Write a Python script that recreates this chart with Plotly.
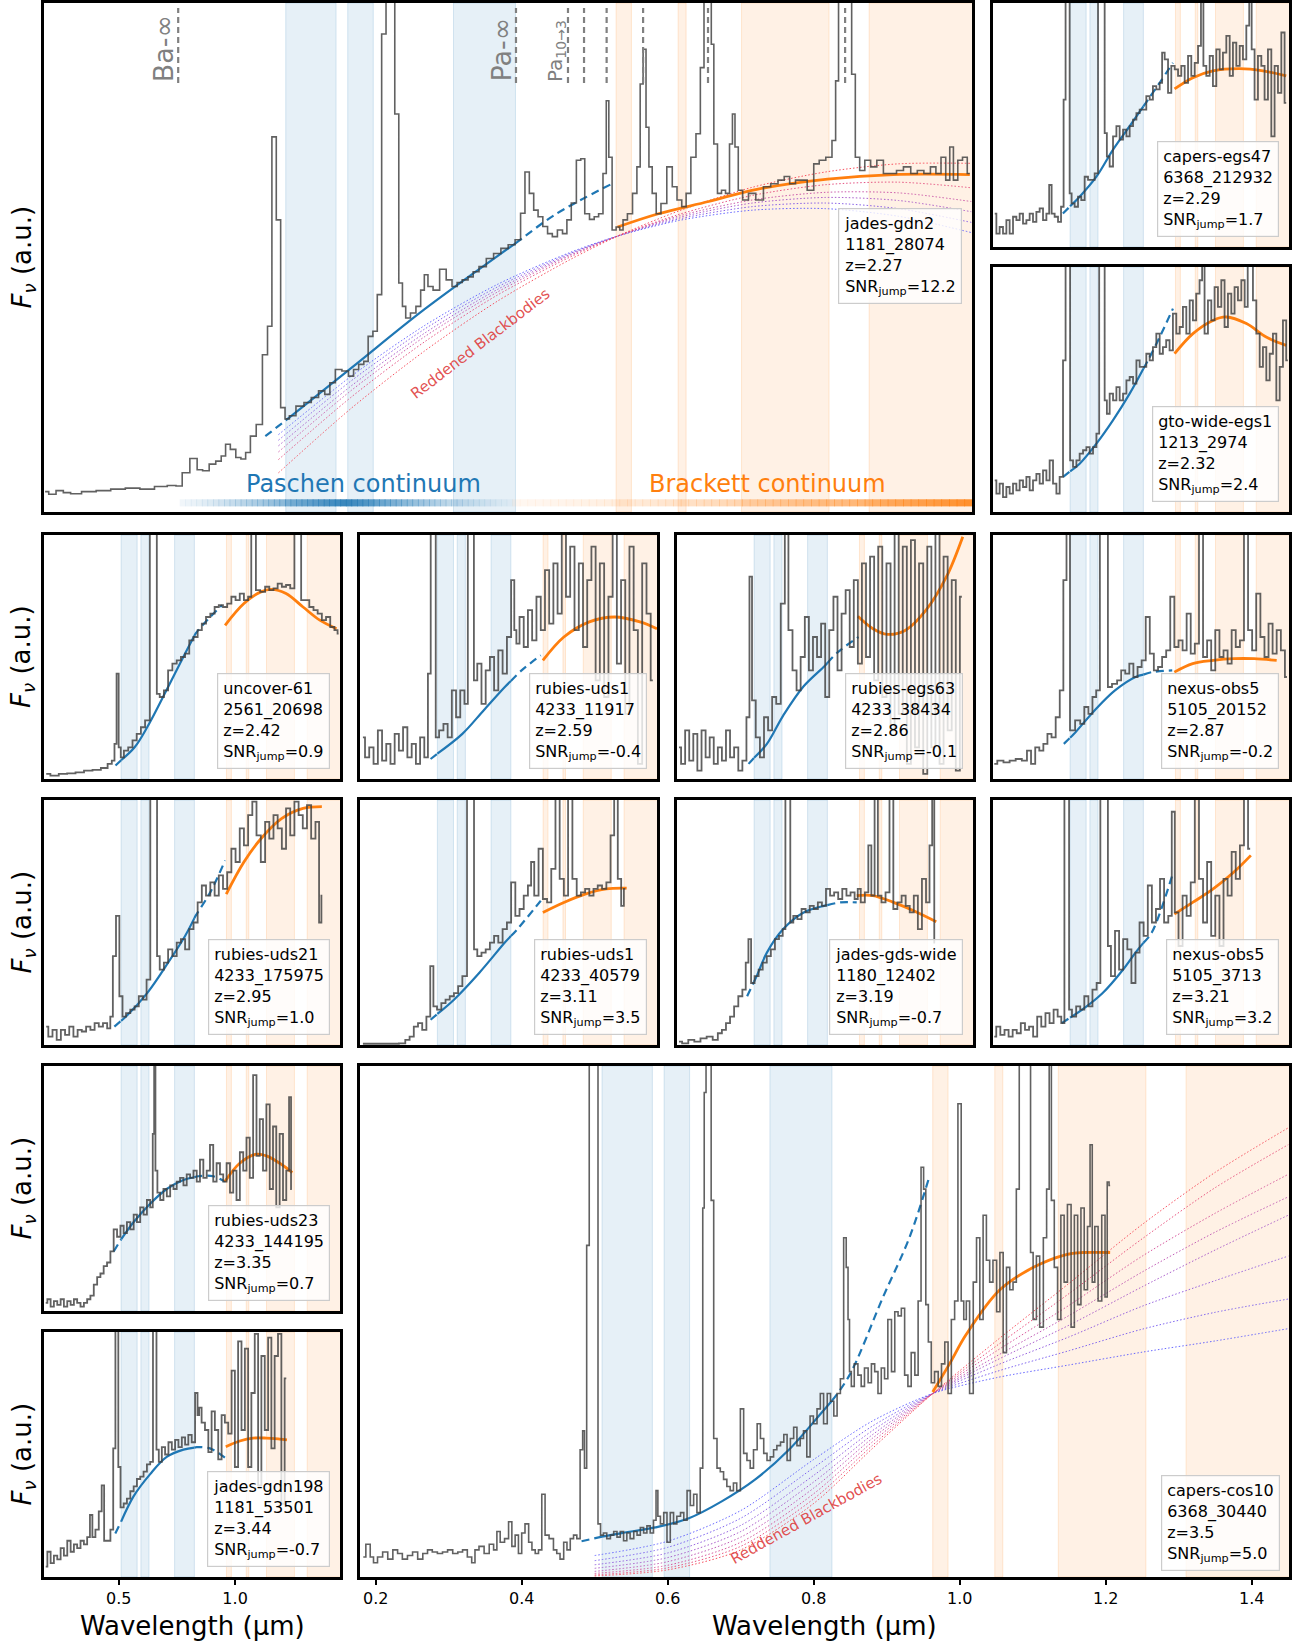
import numpy as np
import plotly.graph_objects as go

FIG_W, FIG_H = 1303, 1642
FONT = "DejaVu Sans"
X_RANGE = [0.1785, 1.451]
Y_RANGE = [0.0, 1.0]

# continuum windows (rest-frame micron)
PASCHEN_WIN = [(0.510, 0.579), (0.595, 0.630), (0.740, 0.825)]
BRACKETT_WIN = [(0.963, 0.984), (1.048, 1.059), (1.135, 1.255), (1.310, 1.470)]
SOLID_RANGE = (0.510, 0.825)
BA_LIMIT = 0.3625
PA_LIMIT = 0.8257
PA_LINES = [0.897, 0.919, 0.950, 1.000, 1.089, 1.277]

# ---------------- jades-gdn2 (top, large) ----------------
gdn2_wl = [0.180,0.190,0.200,0.210,0.220,0.240,0.260,0.280,0.300,0.320,
           0.340,0.355,0.364,0.372,0.385,0.392,0.400,0.410,0.418,0.425,
           0.430,0.438,0.445,0.452,0.458,0.465,0.474,0.482,0.488,0.494,
           0.500,0.506,0.512,0.518,0.530,0.540,0.550,0.560,0.567,0.574,
           0.582,0.592,0.600,0.606,0.614,0.620,0.626,0.633,0.638,0.645,
           0.650,0.657,0.662,0.668,0.672,0.677,0.685,0.692,0.698,0.702,
           0.708,0.716,0.726,0.734,0.742,0.748,0.756,0.764,0.770,0.780,
           0.790,0.800,0.810,0.820,0.829,0.835,0.841,0.847,0.853,0.859,
           0.866,0.872,0.879,0.886,0.893,0.898,0.905,0.912,0.917,0.923,
           0.930,0.936,0.942,0.948,0.951,0.955,0.960,0.966,0.970,0.975,
           0.982,0.989,0.994,0.998,1.002,1.006,1.010,1.015,1.021,1.028,
           1.037,1.043,1.050,1.056,1.062,1.069,1.076,1.081,1.086,1.092,
           1.095,1.099,1.105,1.110,1.116,1.121,1.124,1.128,1.133,1.140,
           1.149,1.160,1.170,1.180,1.190,1.197,1.205,1.213,1.220,1.230,
           1.238,1.245,1.256,1.262,1.266,1.270,1.284,1.288,1.294,1.300,
           1.308,1.316,1.325,1.334,1.343,1.352,1.362,1.372,1.380,1.390,
           1.398,1.405,1.412,1.418,1.423,1.428,1.435,1.441,1.448]
gdn2_fx = [0.040,0.035,0.042,0.038,0.036,0.040,0.042,0.045,0.047,0.045,
           0.050,0.052,0.051,0.077,0.105,0.083,0.081,0.094,0.100,0.110,
           0.133,0.123,0.107,0.104,0.117,0.149,0.172,0.309,0.365,0.737,
           0.574,0.205,0.183,0.189,0.208,0.215,0.225,0.238,0.231,0.254,
           0.280,0.277,0.267,0.280,0.290,0.296,0.345,0.355,0.427,0.939,
           1.2,1.2,0.782,0.450,0.404,0.381,0.391,0.404,0.436,0.466,
           0.443,0.436,0.477,0.456,0.443,0.451,0.456,0.462,0.472,0.482,
           0.498,0.508,0.518,0.525,0.535,0.587,0.668,0.626,0.593,0.580,
           0.561,0.547,0.541,0.554,0.547,0.574,0.607,0.691,0.694,0.586,
           0.575,0.580,0.586,0.665,0.808,0.697,0.554,0.560,0.554,0.574,
           0.586,0.626,0.678,0.841,0.909,0.756,0.678,0.626,0.586,0.606,
           0.678,0.639,0.613,0.600,0.626,0.697,0.743,0.873,1.2,1.2,
           0.919,0.723,0.626,0.632,0.626,0.723,0.782,0.717,0.632,0.613,
           0.626,0.613,0.639,0.645,0.652,0.659,0.645,0.652,0.652,0.632,
           0.684,0.691,0.697,0.730,0.847,1.2,1.2,0.860,0.697,0.671,
           0.691,0.678,0.691,0.665,0.665,0.671,0.678,0.665,0.671,0.665,
           0.678,0.665,0.697,0.652,0.717,0.652,0.691,0.697,0.665]
gdn2_blue_wl = [0.482,0.510,0.600,0.700,0.829,0.880,0.959]
gdn2_blue_fx = [0.149,0.180,0.283,0.398,0.532,0.585,0.646]
gdn2_orange_wl = [0.965,1.021,1.090,1.156,1.253,1.343,1.448]
gdn2_orange_fx = [0.560,0.586,0.610,0.634,0.654,0.663,0.663]

# ---------------- capers-egs47 ----------------
egs47_wl = [0.186,0.200,0.214,0.229,0.243,0.257,0.272,0.286,0.300,0.315,
            0.329,0.343,0.358,0.372,0.386,0.401,0.415,0.425,0.436,0.451,
            0.465,0.477,0.487,0.494,0.505,0.511,0.522,0.537,0.551,0.565,
            0.580,0.594,0.608,0.623,0.637,0.654,0.663,0.673,0.687,0.702,
            0.716,0.730,0.745,0.759,0.773,0.788,0.802,0.816,0.830,0.845,
            0.859,0.873,0.888,0.902,0.909,0.924,0.938,0.952,0.967,0.981,
            0.995,1.010,1.024,1.038,1.053,1.067,1.078,1.088,1.103,1.117,
            1.131,1.146,1.160,1.174,1.189,1.203,1.217,1.232,1.246,1.260,
            1.275,1.285,1.296,1.310,1.325,1.339,1.353,1.368,1.382,1.396,
            1.411,1.425,1.439]
egs47_fx = [0.137,0.055,0.082,0.055,0.110,0.055,0.124,0.110,0.137,0.096,
            0.110,0.137,0.103,0.144,0.158,0.110,0.137,0.254,0.137,0.124,
            0.103,0.165,0.604,1.2,1.2,0.220,0.179,0.165,0.206,0.192,
            0.288,0.275,0.275,0.302,1.2,1.2,0.467,0.371,0.330,0.453,
            0.495,0.440,0.481,0.453,0.495,0.522,0.549,0.563,0.563,0.618,
            0.604,0.659,0.646,0.673,0.797,0.769,0.632,0.742,0.728,0.701,
            0.742,0.673,0.783,0.701,0.755,0.824,1.2,0.742,0.701,0.783,
            0.659,0.810,0.728,0.797,0.865,0.701,0.838,0.742,0.824,0.769,
            0.907,1.2,0.810,0.604,0.783,0.742,0.604,0.810,0.453,0.742,
            0.632,0.879,0.591]
egs47_blue_wl = [0.479,0.551,0.623,0.694,0.766,0.845,0.895,0.952]
egs47_blue_fx = [0.137,0.206,0.288,0.398,0.495,0.604,0.673,0.755]
egs47_orange_wl = [0.959,1.038,1.124,1.239,1.339,1.439]
egs47_orange_fx = [0.648,0.694,0.722,0.731,0.722,0.701]

# ---------------- gto-wide-egs1 ----------------
gto1_wl = [0.186,0.200,0.214,0.229,0.243,0.257,0.272,0.286,0.300,0.315,
           0.329,0.343,0.358,0.372,0.386,0.401,0.415,0.429,0.444,0.458,
           0.472,0.487,0.494,0.505,0.515,0.530,0.544,0.558,0.573,0.587,
           0.601,0.616,0.630,0.640,0.654,0.663,0.673,0.687,0.702,0.716,
           0.730,0.745,0.759,0.773,0.788,0.802,0.816,0.830,0.845,0.859,
           0.873,0.888,0.902,0.916,0.930,0.945,0.959,0.974,0.988,1.002,
           1.017,1.031,1.045,1.059,1.074,1.081,1.095,1.110,1.124,1.138,
           1.153,1.167,1.181,1.196,1.210,1.224,1.239,1.253,1.268,1.279,
           1.289,1.303,1.318,1.332,1.346,1.361,1.375,1.389,1.404,1.418,
           1.432,1.446]
gto1_fx = [0.129,0.075,0.116,0.061,0.102,0.075,0.116,0.088,0.129,0.102,
           0.143,0.088,0.129,0.156,0.116,0.170,0.129,0.211,0.116,0.075,
           0.143,0.619,1.2,1.2,0.211,0.184,0.211,0.238,0.252,0.265,
           0.238,0.265,0.320,1.2,1.2,0.456,0.401,0.483,0.456,0.510,
           0.456,0.483,0.537,0.551,0.524,0.619,0.592,0.592,0.646,0.619,
           0.673,0.728,0.646,0.673,0.701,0.660,0.810,0.728,0.755,0.837,
           0.728,0.864,0.782,0.891,0.946,1.2,0.728,0.864,0.782,0.918,
           0.837,0.946,0.755,0.891,0.810,0.918,0.864,0.946,0.837,1.2,
           1.2,0.864,0.728,0.592,0.673,0.537,0.646,0.728,0.456,0.592,
           0.782,0.619]
gto1_blue_wl = [0.480,0.551,0.623,0.694,0.766,0.845,0.895,0.952]
gto1_blue_fx = [0.143,0.197,0.279,0.374,0.483,0.619,0.714,0.830]
gto1_orange_wl = [0.959,1.038,1.124,1.181,1.268,1.353,1.439]
gto1_orange_fx = [0.646,0.728,0.782,0.796,0.769,0.714,0.680]

# ---------------- uncover-61 ----------------
unc61_wl = [0.188,0.224,0.260,0.296,0.332,0.369,0.405,0.441,0.463,0.477,
            0.486,0.495,0.504,0.513,0.531,0.550,0.568,0.586,0.604,0.622,
            0.645,0.660,0.667,0.685,0.703,0.721,0.740,0.758,0.776,0.794,
            0.812,0.830,0.848,0.866,0.884,0.903,0.921,0.939,0.957,0.975,
            0.993,1.011,1.029,1.047,1.065,1.074,1.083,1.096,1.120,1.138,
            1.156,1.174,1.192,1.210,1.228,1.246,1.264,1.277,1.291,1.310,
            1.328,1.346,1.364,1.382,1.400,1.418,1.436,1.445]
unc61_fx = [0.021,0.014,0.021,0.023,0.027,0.034,0.037,0.045,0.062,0.075,
            0.144,0.432,0.130,0.089,0.116,0.130,0.158,0.185,0.212,0.240,
            1.2,1.2,0.349,0.336,0.363,0.445,0.473,0.486,0.500,0.514,
            0.568,0.582,0.610,0.637,0.664,0.678,0.705,0.712,0.705,0.719,
            0.747,0.733,0.760,0.733,0.747,1.2,1.2,0.774,0.767,0.788,
            0.774,0.781,0.801,0.788,0.795,0.781,1.2,1.2,0.733,0.733,
            0.705,0.692,0.678,0.651,0.664,0.623,0.610,0.596]
unc61_blue_wl = [0.486,0.568,0.622,0.712,0.785,0.830,0.893,0.944]
unc61_blue_fx = [0.055,0.130,0.212,0.377,0.514,0.596,0.664,0.712]
unc61_orange_wl = [0.957,1.038,1.111,1.156,1.219,1.292,1.364,1.436]
unc61_orange_fx = [0.630,0.719,0.767,0.777,0.760,0.705,0.651,0.616]

# ---------------- rubies-uds1 (4233_11917) ----------------
uds1a_wl = [0.191,0.209,0.227,0.246,0.264,0.282,0.300,0.318,0.336,0.354,
            0.372,0.391,0.409,0.427,0.445,0.463,0.476,0.487,0.498,0.508,
            0.527,0.545,0.563,0.581,0.599,0.617,0.635,0.646,0.661,0.672,
            0.690,0.708,0.726,0.744,0.762,0.780,0.799,0.817,0.835,0.844,
            0.853,0.871,0.889,0.907,0.925,0.944,0.962,0.980,0.998,1.016,
            1.034,1.052,1.070,1.088,1.107,1.125,1.143,1.161,1.179,1.197,
            1.215,1.234,1.252,1.270,1.288,1.306,1.324,1.342,1.360,1.378,
            1.397,1.415,1.433]
uds1a_fx = [0.171,0.089,0.130,0.062,0.199,0.075,0.144,0.062,0.185,0.116,
            0.212,0.089,0.144,0.062,0.171,0.089,0.432,1.2,1.2,0.171,
            0.199,0.226,0.171,0.363,0.253,0.363,0.308,1.2,1.2,0.404,
            0.473,0.308,0.445,0.500,0.363,0.527,0.432,0.582,0.815,0.610,
            0.555,0.664,0.541,0.692,0.568,0.747,0.610,0.856,0.637,0.884,
            0.678,1.2,0.747,0.952,0.610,0.884,0.541,0.815,0.952,0.404,
            0.884,0.336,0.747,1.2,0.473,0.815,0.267,0.952,0.610,0.062,
            0.884,0.678,0.404]
uds1a_blue_wl = [0.481,0.617,0.708,0.799,0.871,0.953]
uds1a_blue_fx = [0.082,0.185,0.281,0.377,0.445,0.507]
uds1a_orange_wl = [0.962,1.052,1.161,1.270,1.378,1.451]
uds1a_orange_fx = [0.486,0.582,0.644,0.664,0.644,0.616]

# ---------------- rubies-egs63 ----------------
egs63_wl = [0.187,0.205,0.222,0.240,0.257,0.275,0.293,0.310,0.328,0.345,
            0.363,0.380,0.398,0.415,0.433,0.451,0.468,0.486,0.494,0.508,
            0.526,0.544,0.561,0.579,0.596,0.614,0.635,0.649,0.666,0.684,
            0.701,0.719,0.737,0.754,0.772,0.789,0.807,0.824,0.842,0.860,
            0.877,0.895,0.912,0.930,0.947,0.965,0.982,1.000,1.017,1.035,
            1.052,1.070,1.088,1.105,1.123,1.140,1.158,1.175,1.193,1.210,
            1.228,1.246,1.263,1.281,1.298,1.316,1.333,1.351,1.368,1.386,
            1.403]
egs63_fx = [0.130,0.062,0.199,0.075,0.185,0.034,0.199,0.089,0.171,0.062,
            0.130,0.075,0.199,0.089,0.130,0.034,0.075,0.253,0.829,0.322,
            0.171,0.089,0.253,0.199,0.336,0.308,0.719,1.2,0.610,0.445,
            0.363,0.500,0.664,0.445,0.582,0.500,0.637,0.336,0.610,0.747,
            0.445,0.678,0.774,0.541,0.815,0.473,0.884,0.500,0.911,0.404,
            0.952,0.336,0.884,0.199,1.2,0.267,0.952,0.062,0.979,0.130,
            0.884,0.021,0.952,0.130,1.2,0.062,0.911,0.199,0.815,0.034,
            0.747]
egs63_blue_wl = [0.486,0.565,0.635,0.723,0.810,0.870,0.959]
egs63_blue_fx = [0.062,0.144,0.260,0.380,0.460,0.520,0.582]
egs63_orange_wl = [0.956,1.021,1.082,1.161,1.249,1.337,1.407]
egs63_orange_fx = [0.667,0.616,0.593,0.610,0.692,0.829,0.993]

# ---------------- nexus-obs5 (5105_20152) ----------------
nx20152_wl = [0.184,0.210,0.237,0.263,0.289,0.316,0.333,0.351,0.369,0.386,
              0.404,0.421,0.439,0.457,0.474,0.488,0.501,0.518,0.545,0.562,
              0.580,0.597,0.615,0.629,0.647,0.668,0.677,0.703,0.721,0.738,
              0.756,0.773,0.791,0.809,0.826,0.844,0.861,0.879,0.897,0.914,
              0.932,0.949,0.967,0.985,1.002,1.020,1.037,1.055,1.073,1.090,
              1.108,1.125,1.143,1.161,1.178,1.196,1.213,1.231,1.249,1.266,
              1.284,1.301,1.319,1.337,1.354,1.372,1.389,1.407,1.425,1.442]
nx20152_fx = [0.062,0.075,0.068,0.075,0.082,0.075,0.116,0.062,0.130,0.116,
              0.144,0.185,0.171,0.253,0.363,0.815,1.2,0.199,0.240,0.226,
              0.295,0.267,0.336,0.363,1.2,1.2,0.377,0.390,0.404,0.445,
              0.432,0.473,0.418,0.459,0.486,0.664,0.514,0.445,0.459,0.500,
              0.527,0.747,0.541,0.568,0.527,0.678,0.514,0.555,1.2,0.500,
              0.568,0.445,0.610,0.500,0.527,0.473,0.610,0.541,0.568,1.2,
              0.610,0.527,0.760,0.582,0.500,0.637,0.514,0.610,0.527,0.418]
nx20152_blue_wl = [0.483,0.527,0.615,0.703,0.791,0.861,0.949]
nx20152_blue_fx = [0.144,0.185,0.281,0.363,0.418,0.438,0.445]
nx20152_orange_wl = [0.958,1.037,1.125,1.213,1.301,1.398]
nx20152_orange_fx = [0.438,0.473,0.486,0.493,0.493,0.486]

# ---------------- rubies-uds21 ----------------
uds21_wl = [0.188,0.206,0.224,0.242,0.260,0.278,0.296,0.314,0.332,0.350,
            0.369,0.387,0.405,0.423,0.441,0.459,0.468,0.481,0.495,0.510,
            0.522,0.540,0.559,0.577,0.595,0.613,0.626,0.645,0.662,0.667,
            0.685,0.703,0.721,0.740,0.758,0.776,0.794,0.812,0.830,0.848,
            0.866,0.884,0.903,0.921,0.939,0.957,0.975,0.993,1.011,1.029,
            1.047,1.065,1.083,1.101,1.120,1.138,1.156,1.174,1.192,1.210,
            1.228,1.246,1.264,1.282,1.300,1.318,1.336,1.355,1.367,1.375]
uds21_fx = [0.075,0.034,0.062,0.021,0.062,0.041,0.075,0.034,0.062,0.055,
            0.075,0.062,0.089,0.075,0.089,0.068,0.116,0.363,0.527,0.199,
            0.116,0.130,0.144,0.158,0.199,0.185,0.267,1.2,1.2,0.363,
            0.308,0.336,0.390,0.363,0.418,0.432,0.390,0.473,0.500,0.582,
            0.651,0.610,0.664,0.610,0.692,0.637,0.705,0.801,0.747,0.884,
            0.815,0.938,0.993,0.856,0.747,0.911,0.842,0.938,0.884,0.801,
            0.966,0.856,0.993,0.938,0.884,0.979,0.842,0.911,0.500,0.610]
uds21_blue_wl = [0.481,0.531,0.622,0.712,0.785,0.830,0.893,0.957]
uds21_blue_fx = [0.075,0.116,0.212,0.336,0.445,0.527,0.623,0.753]
uds21_orange_wl = [0.962,1.038,1.111,1.201,1.292,1.373]
uds21_orange_fx = [0.616,0.747,0.842,0.925,0.966,0.973]

# ---------------- rubies-uds1 (4233_40579) ----------------
uds1b_wl = [0.191,0.255,0.327,0.363,0.382,0.400,0.418,0.436,0.454,0.472,
            0.487,0.499,0.518,0.536,0.554,0.572,0.590,0.608,0.626,0.648,
            0.662,0.672,0.690,0.708,0.726,0.744,0.762,0.780,0.799,0.817,
            0.835,0.853,0.871,0.889,0.907,0.916,0.934,0.953,0.971,0.989,
            1.007,1.025,1.043,1.061,1.079,1.098,1.116,1.134,1.152,1.170,
            1.188,1.206,1.225,1.243,1.261,1.274,1.292,1.303,1.315]
uds1b_fx = [0.005,0.005,0.005,0.007,0.021,0.034,0.075,0.089,0.062,0.116,
            0.322,0.158,0.144,0.171,0.185,0.199,0.212,0.240,0.281,1.2,
            1.2,0.390,0.363,0.377,0.390,0.418,0.445,0.418,0.473,0.500,
            0.664,0.527,0.555,0.610,0.651,0.747,0.610,0.801,0.596,0.582,
            0.719,1.2,0.678,0.610,1.2,0.678,0.610,0.623,0.637,0.610,
            0.637,0.651,0.637,0.664,0.856,1.2,0.678,0.568,0.637]
uds1b_blue_wl = [0.481,0.581,0.690,0.799,0.853,0.953]
uds1b_blue_fx = [0.103,0.185,0.295,0.418,0.473,0.589]
uds1b_orange_wl = [0.962,1.052,1.143,1.234,1.321]
uds1b_orange_fx = [0.541,0.582,0.616,0.637,0.640]

# ---------------- jades-gds-wide ----------------
gdsw_wl = [0.187,0.214,0.240,0.266,0.293,0.319,0.345,0.363,0.380,0.398,
           0.415,0.433,0.451,0.468,0.480,0.491,0.503,0.521,0.538,0.556,
           0.573,0.591,0.608,0.626,0.640,0.649,0.661,0.670,0.687,0.705,
           0.723,0.740,0.758,0.775,0.793,0.810,0.828,0.845,0.863,0.880,
           0.898,0.916,0.933,0.951,0.960,0.977,0.995,1.007,1.021,1.035,
           1.049,1.066,1.084,1.100,1.117,1.135,1.153,1.170,1.188,1.205,
           1.223,1.240,1.258,1.270,1.281,1.288]
gdsw_fx = [0.014,0.007,0.021,0.014,0.027,0.034,0.021,0.048,0.062,0.089,
           0.116,0.158,0.199,0.226,0.336,0.432,0.253,0.281,0.308,0.336,
           0.363,0.390,0.432,0.445,0.473,1.2,1.2,0.500,0.527,0.514,
           0.555,0.541,0.568,0.555,0.582,0.568,0.637,0.610,0.623,0.596,
           0.637,0.610,0.623,0.596,0.637,0.582,0.623,0.815,0.610,1.2,
           0.610,0.582,0.623,1.2,0.555,0.582,0.610,0.568,0.541,0.610,
           0.473,0.678,0.582,0.815,1.2,0.418]
gdsw_blue_wl = [0.480,0.521,0.565,0.635,0.723,0.810,0.880,0.951]
gdsw_blue_fx = [0.199,0.281,0.377,0.473,0.541,0.568,0.582,0.582]
gdsw_orange_wl = [0.951,1.021,1.109,1.196,1.293]
gdsw_orange_fx = [0.610,0.610,0.582,0.548,0.503]

# ---------------- nexus-obs5 (5105_3713) ----------------
nx3713_wl = [0.184,0.201,0.219,0.237,0.254,0.272,0.289,0.307,0.325,0.342,
             0.360,0.377,0.395,0.413,0.430,0.448,0.465,0.479,0.492,0.502,
             0.509,0.527,0.545,0.562,0.580,0.597,0.615,0.633,0.647,0.668,
             0.677,0.694,0.712,0.729,0.747,0.765,0.782,0.800,0.817,0.835,
             0.853,0.870,0.888,0.905,0.923,0.941,0.953,0.967,0.985,1.002,
             1.020,1.037,1.055,1.073,1.090,1.108,1.125,1.143,1.161,1.178,
             1.196,1.213,1.231,1.249,1.266,1.284]
nx3713_fx = [0.034,0.075,0.041,0.062,0.034,0.062,0.048,0.089,0.062,0.075,
             0.034,0.116,0.075,0.130,0.089,0.144,0.116,0.089,1.2,1.2,
             0.144,0.116,0.158,0.144,0.199,0.158,0.226,0.253,1.2,1.2,
             0.404,0.281,0.466,0.308,0.432,0.390,0.253,0.377,0.500,0.445,
             0.651,0.500,0.555,0.678,0.500,0.527,0.952,0.541,0.404,0.610,
             0.527,0.664,1.2,0.678,0.500,0.747,0.445,0.610,0.404,0.678,
             0.610,0.788,0.678,0.815,1.2,0.801]
nx3713_blue_wl = [0.474,0.562,0.650,0.738,0.791,0.861,0.949]
nx3713_blue_fx = [0.089,0.144,0.212,0.308,0.377,0.459,0.692]
nx3713_orange_wl = [0.958,1.037,1.125,1.213,1.287]
nx3713_orange_fx = [0.534,0.582,0.637,0.705,0.774]

# ---------------- rubies-uds23 ----------------
uds23_wl = [0.186,0.200,0.214,0.228,0.243,0.257,0.271,0.286,0.300,0.314,
            0.328,0.343,0.357,0.371,0.385,0.400,0.414,0.428,0.442,0.457,
            0.471,0.485,0.500,0.514,0.528,0.542,0.557,0.571,0.585,0.599,
            0.614,0.628,0.642,0.650,0.654,0.661,0.671,0.685,0.699,0.714,
            0.728,0.742,0.756,0.771,0.785,0.799,0.814,0.828,0.842,0.856,
            0.871,0.885,0.899,0.913,0.928,0.942,0.956,0.971,0.985,0.999,
            1.013,1.028,1.042,1.056,1.070,1.085,1.099,1.113,1.127,1.142,
            1.156,1.170,1.184,1.199,1.213,1.227,1.237,1.244]
uds23_fx = [0.033,0.048,0.018,0.040,0.025,0.048,0.018,0.040,0.025,0.048,
            0.033,0.018,0.033,0.048,0.063,0.108,0.138,0.153,0.183,0.198,
            0.243,0.333,0.303,0.348,0.318,0.363,0.333,0.393,0.363,0.423,
            0.393,0.453,0.423,0.723,1.2,0.573,0.483,0.453,0.498,0.468,
            0.513,0.498,0.528,0.543,0.513,0.558,0.543,0.573,0.528,0.618,
            0.543,0.573,0.678,0.528,0.603,0.558,0.528,0.603,0.483,0.573,
            0.453,0.648,0.573,0.708,0.543,0.963,0.633,0.783,0.573,0.843,
            0.498,0.753,0.423,0.723,0.453,0.573,0.873,0.498]
uds23_blue_wl = [0.478,0.507,0.564,0.635,0.706,0.778,0.842,0.906,0.956]
uds23_blue_fx = [0.243,0.288,0.363,0.438,0.498,0.535,0.550,0.550,0.528]
uds23_orange_wl = [0.956,1.020,1.092,1.135,1.192,1.246]
uds23_orange_fx = [0.528,0.603,0.640,0.633,0.603,0.565]

# ---------------- jades-gdn198 ----------------
gdn198_wl = [0.186,0.200,0.214,0.228,0.243,0.257,0.271,0.286,0.300,0.314,
             0.328,0.343,0.357,0.371,0.381,0.392,0.407,0.421,0.432,0.442,
             0.457,0.471,0.481,0.490,0.495,0.501,0.514,0.528,0.542,0.557,
             0.571,0.585,0.599,0.614,0.628,0.642,0.652,0.658,0.666,0.678,
             0.692,0.706,0.721,0.735,0.749,0.764,0.778,0.792,0.806,0.821,
             0.835,0.842,0.849,0.863,0.878,0.892,0.906,0.920,0.935,0.949,
             0.963,0.978,0.992,1.006,1.020,1.035,1.049,1.063,1.077,1.092,
             1.106,1.120,1.135,1.149,1.163,1.177,1.192,1.206,1.220]
gdn198_fx = [0.042,0.103,0.057,0.087,0.072,0.118,0.087,0.148,0.103,0.133,
             0.118,0.148,0.133,0.163,0.253,0.163,0.193,0.268,0.374,0.148,
             0.148,0.193,0.525,1.2,1.2,0.449,0.284,0.300,0.320,0.350,
             0.370,0.400,0.410,0.430,0.460,0.470,1.2,1.2,0.520,0.470,
             0.530,0.500,0.550,0.520,0.560,0.530,0.570,0.540,0.580,0.550,
             0.751,0.661,0.691,0.630,0.600,0.510,0.676,0.600,0.480,0.661,
             0.630,0.585,0.842,0.449,0.962,0.600,0.932,0.449,0.751,0.992,
             0.374,0.902,0.600,0.977,0.525,0.902,0.992,0.299,0.811]
gdn198_blue_wl = [0.485,0.564,0.635,0.706,0.778,0.835,0.892,0.956]
gdn198_blue_fx = [0.178,0.330,0.420,0.490,0.520,0.530,0.525,0.487]
gdn198_orange_wl = [0.960,1.020,1.077,1.135,1.192,1.223]
gdn198_orange_fx = [0.532,0.555,0.567,0.567,0.563,0.560]

# ---------------- capers-cos10 (bottom, large) ----------------
cos10_wl = [0.183,0.190,0.195,0.199,0.206,0.213,0.220,0.227,0.233,0.240,
            0.247,0.254,0.261,0.268,0.274,0.281,0.288,0.295,0.302,0.309,
            0.316,0.322,0.329,0.334,0.338,0.345,0.352,0.359,0.364,0.368,
            0.373,0.380,0.384,0.389,0.393,0.398,0.402,0.407,0.412,0.416,
            0.421,0.425,0.430,0.434,0.441,0.446,0.450,0.455,0.460,0.464,
            0.469,0.473,0.478,0.482,0.485,0.487,0.491,0.494,0.503,0.506,
            0.510,0.514,0.519,0.524,0.528,0.533,0.537,0.542,0.546,0.551,
            0.556,0.560,0.565,0.569,0.574,0.578,0.583,0.585,0.588,0.592,
            0.597,0.601,0.606,0.610,0.615,0.620,0.624,0.629,0.633,0.638,
            0.642,0.647,0.649,0.651,0.654,0.658,0.661,0.665,0.670,0.674,
            0.679,0.683,0.688,0.692,0.697,0.702,0.706,0.711,0.715,0.720,
            0.725,0.729,0.734,0.738,0.743,0.747,0.752,0.757,0.761,0.766,
            0.770,0.775,0.779,0.784,0.788,0.793,0.797,0.802,0.807,0.811,
            0.816,0.821,0.825,0.830,0.834,0.839,0.843,0.846,0.848,0.850,
            0.853,
            0.858,0.863,0.867,0.872,0.877,0.881,0.886,0.890,0.895,0.899,
            0.904,0.909,0.913,0.918,0.922,0.927,0.931,0.936,0.941,0.945,
            0.949,0.952,0.955,0.959,0.963,0.968,0.973,0.977,0.982,0.986,
            0.991,0.995,1.000,1.004,1.007,1.011,1.016,1.021,1.025,1.030,
            1.034,1.039,1.043,1.048,1.053,1.057,1.062,1.066,1.071,1.075,
            1.080,1.083,1.096,1.098,1.103,1.107,1.112,1.117,1.121,1.124,
            1.127,1.132,1.136,1.141,1.145,1.150,1.155,1.159,1.164,1.168,
            1.173,1.177,1.180,1.183,1.187,1.192,1.197,1.201,1.203,1.206]
cos10_fx = [0.039,0.064,0.039,0.028,0.039,0.049,0.035,0.053,0.046,0.035,
            0.042,0.049,0.035,0.046,0.053,0.049,0.046,0.049,0.053,0.046,
            0.049,0.053,0.039,0.028,0.053,0.060,0.046,0.064,0.053,0.089,
            0.068,0.075,0.108,0.060,0.082,0.046,0.086,0.104,0.068,0.053,
            0.046,0.053,0.162,0.082,0.075,0.053,0.046,0.035,0.068,0.053,
            0.075,0.082,0.075,0.249,0.286,0.213,0.649,1.2,1.2,0.104,
            0.082,0.086,0.075,0.082,0.089,0.078,0.089,0.071,0.086,0.075,
            0.089,0.082,0.097,0.086,0.100,0.086,0.111,0.169,0.119,0.104,
            0.126,0.068,0.126,0.104,0.119,0.126,0.111,0.169,0.140,0.162,
            0.126,0.213,0.722,0.948,1.2,1.2,0.737,0.271,0.213,0.206,
            0.191,0.177,0.169,0.184,0.169,0.329,0.242,0.228,0.213,0.249,
            0.300,0.271,0.242,0.228,0.235,0.249,0.257,0.264,0.279,0.228,
            0.271,0.293,0.257,0.271,0.286,0.235,0.315,0.300,0.329,0.359,
            0.300,0.359,0.344,0.315,0.359,0.388,0.664,0.606,0.504,0.402,
            0.373,
            0.417,0.395,0.373,0.409,0.380,0.417,0.402,0.359,0.409,0.388,
            0.504,0.402,0.519,0.511,0.526,0.395,0.373,0.439,0.395,0.540,
            0.802,0.759,0.533,0.460,0.380,0.402,0.373,0.417,0.460,0.359,
            0.504,0.540,0.926,0.540,0.504,0.540,0.359,0.577,0.664,0.504,
            0.708,0.620,0.577,0.620,0.519,0.635,0.439,0.606,0.562,0.577,
            0.759,1.2,1.2,0.635,0.504,0.628,0.489,0.664,0.759,1.2,
            0.737,0.606,0.504,0.708,0.577,0.729,0.489,0.708,0.533,0.722,
            0.562,0.686,0.846,0.577,0.686,0.540,0.708,0.548,0.773,0.766]
cos10_blue_wl = [0.482,0.510,0.537,0.583,0.629,0.674,0.720,0.766,0.811,0.825,0.849,0.895,0.931,0.957]
cos10_blue_fx = [0.070,0.079,0.086,0.097,0.115,0.148,0.191,0.249,0.322,0.345,0.395,0.548,0.664,0.777]
cos10_orange_wl = [0.963,0.986,1.009,1.055,1.101,1.146,1.169,1.206]
cos10_orange_fx = [0.362,0.417,0.475,0.562,0.606,0.631,0.635,0.635]

# ---------------- reddened blackbody curves ----------------
bb_top_wl = [0.50, 0.60, 0.70, 0.80, 0.90, 0.965, 1.05, 1.15, 1.25, 1.35, 1.45]
bb_top_fx = [
    [0.152, 0.267, 0.366, 0.447, 0.510, 0.542, 0.573, 0.593, 0.596, 0.581, 0.549],
    [0.141, 0.258, 0.359, 0.442, 0.508, 0.542, 0.576, 0.600, 0.607, 0.596, 0.569],
    [0.130, 0.248, 0.351, 0.437, 0.506, 0.542, 0.579, 0.607, 0.618, 0.612, 0.590],
    [0.118, 0.239, 0.344, 0.432, 0.504, 0.542, 0.582, 0.613, 0.628, 0.627, 0.610],
    [0.103, 0.226, 0.334, 0.426, 0.501, 0.542, 0.585, 0.622, 0.643, 0.648, 0.637],
    [0.077, 0.204, 0.316, 0.414, 0.496, 0.542, 0.592, 0.638, 0.668, 0.684, 0.685],
]
bb_bot_wl = [0.50, 0.60, 0.70, 0.80, 0.88, 0.963, 1.05, 1.15, 1.25, 1.35, 1.45]
bb_bot_fx = [
    [0.042, 0.070, 0.130, 0.230, 0.305, 0.359, 0.390, 0.415, 0.440, 0.462, 0.486],
    [0.032, 0.058, 0.115, 0.214, 0.295, 0.359, 0.402, 0.443, 0.485, 0.518, 0.544],
    [0.024, 0.047, 0.101, 0.199, 0.286, 0.359, 0.414, 0.470, 0.530, 0.580, 0.628],
    [0.017, 0.038, 0.089, 0.186, 0.278, 0.359, 0.424, 0.493, 0.568, 0.640, 0.708],
    [0.011, 0.030, 0.078, 0.174, 0.271, 0.359, 0.432, 0.512, 0.597, 0.675, 0.744],
    [0.007, 0.023, 0.068, 0.163, 0.264, 0.359, 0.442, 0.532, 0.628, 0.712, 0.788],
    [0.004, 0.018, 0.060, 0.153, 0.257, 0.359, 0.452, 0.555, 0.662, 0.762, 0.846],
    [0.002, 0.014, 0.053, 0.144, 0.251, 0.359, 0.462, 0.575, 0.690, 0.792, 0.879],
]
BB_COLORS_6 = ['#5b5bff', '#8054e6', '#a450c8', '#c84ca4', '#e44478', '#f84050']
BB_COLORS_8 = ['#5b5bff', '#7458f0', '#8c54de', '#a450c8', '#bc4cb0', '#d44894', '#e84474', '#f84050']

# ---------------- panel definitions ----------------
def info(name, ident, z, snr):
    return f"{name}<br>{ident}<br>z={z}<br>SNR<sub>jump</sub>={snr}"

PANELS = [
    dict(box=(44, 3, 972, 512), d=(gdn2_wl, gdn2_fx, gdn2_blue_wl, gdn2_blue_fx, gdn2_orange_wl, gdn2_orange_fx),
         text=info("jades-gdn2", "1181_28074", "2.27", "12.2"), tpos=(0.989, 0.409), ylab=True, big=True,
         bb=(bb_top_wl, bb_top_fx, BB_COLORS_6)),
    dict(box=(993, 3, 1289, 247), d=(egs47_wl, egs47_fx, egs47_blue_wl, egs47_blue_fx, egs47_orange_wl, egs47_orange_fx),
         text=info("capers-egs47", "6368_212932", "2.29", "1.7")),
    dict(box=(993, 267, 1289, 512), d=(gto1_wl, gto1_fx, gto1_blue_wl, gto1_blue_fx, gto1_orange_wl, gto1_orange_fx),
         text=info("gto-wide-egs1", "1213_2974", "2.32", "2.4")),
    dict(box=(44, 535, 340, 779), d=(unc61_wl, unc61_fx, unc61_blue_wl, unc61_blue_fx, unc61_orange_wl, unc61_orange_fx),
         text=info("uncover-61", "2561_20698", "2.42", "0.9"), ylab=True),
    dict(box=(360, 535, 657, 779), d=(uds1a_wl, uds1a_fx, uds1a_blue_wl, uds1a_blue_fx, uds1a_orange_wl, uds1a_orange_fx),
         text=info("rubies-uds1", "4233_11917", "2.59", "-0.4")),
    dict(box=(677, 535, 973, 779), d=(egs63_wl, egs63_fx, egs63_blue_wl, egs63_blue_fx, egs63_orange_wl, egs63_orange_fx),
         text=info("rubies-egs63", "4233_38434", "2.86", "-0.1")),
    dict(box=(993, 535, 1289, 779), d=(nx20152_wl, nx20152_fx, nx20152_blue_wl, nx20152_blue_fx, nx20152_orange_wl, nx20152_orange_fx),
         text=info("nexus-obs5", "5105_20152", "2.87", "-0.2")),
    dict(box=(44, 800, 340, 1045), d=(uds21_wl, uds21_fx, uds21_blue_wl, uds21_blue_fx, uds21_orange_wl, uds21_orange_fx),
         text=info("rubies-uds21", "4233_175975", "2.95", "1.0"), ylab=True),
    dict(box=(360, 800, 657, 1045), d=(uds1b_wl, uds1b_fx, uds1b_blue_wl, uds1b_blue_fx, uds1b_orange_wl, uds1b_orange_fx),
         text=info("rubies-uds1", "4233_40579", "3.11", "3.5")),
    dict(box=(677, 800, 973, 1045), d=(gdsw_wl, gdsw_fx, gdsw_blue_wl, gdsw_blue_fx, gdsw_orange_wl, gdsw_orange_fx),
         text=info("jades-gds-wide", "1180_12402", "3.19", "-0.7")),
    dict(box=(993, 800, 1289, 1045), d=(nx3713_wl, nx3713_fx, nx3713_blue_wl, nx3713_blue_fx, nx3713_orange_wl, nx3713_orange_fx),
         text=info("nexus-obs5", "5105_3713", "3.21", "3.2")),
    dict(box=(44, 1066, 340, 1311), d=(uds23_wl, uds23_fx, uds23_blue_wl, uds23_blue_fx, uds23_orange_wl, uds23_orange_fx),
         text=info("rubies-uds23", "4233_144195", "3.35", "0.7"), ylab=True),
    dict(box=(44, 1332, 340, 1577), d=(gdn198_wl, gdn198_fx, gdn198_blue_wl, gdn198_blue_fx, gdn198_orange_wl, gdn198_orange_fx),
         text=info("jades-gdn198", "1181_53501", "3.44", "-0.7"), ylab=True,
         xticks=([0.5, 1.0], ["0.5", "1.0"])),
    dict(box=(360, 1066, 1289, 1577), d=(cos10_wl, cos10_fx, cos10_blue_wl, cos10_blue_fx, cos10_orange_wl, cos10_orange_fx),
         text=info("capers-cos10", "6368_30440", "3.5", "5.0"), tpos=(0.990, 0.012), big=True,
         bb=(bb_bot_wl, bb_bot_fx, BB_COLORS_8),
         xticks=([0.2, 0.4, 0.6, 0.8, 1.0, 1.2, 1.4], ["0.2", "0.4", "0.6", "0.8", "1.0", "1.2", "1.4"])),
]


def split_fit(w, f, lo, hi):
    w = np.asarray(w, float)
    f = np.asarray(f, float)
    lo = max(lo, w[0])
    hi = min(hi, w[-1])
    flo, fhi = np.interp([lo, hi], w, f)
    segs = []
    m = w < lo
    if m.any():
        segs.append(("8px,5px", np.r_[w[m], lo], np.r_[f[m], flo]))
    m = (w > lo) & (w < hi)
    segs.append(("solid", np.r_[lo, w[m], hi], np.r_[flo, f[m], fhi]))
    m = w > hi
    if m.any():
        segs.append(("8px,5px", np.r_[hi, w[m]], np.r_[fhi, f[m]]))
    return segs


fig = go.Figure()
layout = {}
shapes = []
annotations = []

for i, p in enumerate(PANELS, start=1):
    sfx = "" if i == 1 else str(i)
    xa, ya = "x" + sfx, "y" + sfx
    x0, y0, x1, y1 = p["box"]
    xt = p.get("xticks")
    layout["xaxis" + sfx] = dict(
        domain=[x0 / FIG_W, x1 / FIG_W], range=X_RANGE, anchor=ya,
        showline=True, mirror=True, linecolor="black", linewidth=3,
        showgrid=False, zeroline=False,
        showticklabels=bool(xt), ticks="outside" if xt else "",
        tickvals=xt[0] if xt else None, ticktext=xt[1] if xt else None,
        ticklen=5, tickwidth=1.5, tickcolor="black",
        tickfont=dict(family=FONT, size=16, color="black"),
    )
    layout["yaxis" + sfx] = dict(
        domain=[1 - y1 / FIG_H, 1 - y0 / FIG_H], range=Y_RANGE, anchor=xa,
        showline=True, mirror=True, linecolor="black", linewidth=3,
        showgrid=False, zeroline=False, showticklabels=False, ticks="",
    )
    ydom = ya + " domain"
    for lo, hi in PASCHEN_WIN:
        shapes.append(dict(type="rect", xref=xa, yref=ydom, x0=lo, x1=hi, y0=0, y1=1,
                           fillcolor="rgba(31,119,180,0.11)",
                           line=dict(color="rgba(31,119,180,0.16)", width=1), layer="below"))
    for lo, hi in BRACKETT_WIN:
        shapes.append(dict(type="rect", xref=xa, yref=ydom, x0=lo, x1=hi, y0=0, y1=1,
                           fillcolor="rgba(255,127,14,0.11)",
                           line=dict(color="rgba(255,127,14,0.16)", width=1), layer="below"))

    wl, fx, bw, bf, ow, of = p["d"]
    big = p.get("big", False)

    if "bb" in p:
        bwl, curves, cols = p["bb"]
        for c, col in zip(curves, cols):
            fig.add_trace(go.Scatter(x=bwl, y=c, mode="lines", xaxis=xa, yaxis=ya,
                                     line=dict(color=col, width=1, dash="1.5px,2px", shape="spline", smoothing=0.8),
                                     opacity=0.9, showlegend=False, hoverinfo="skip"))

    for dash, sx, sy in split_fit(bw, bf, *SOLID_RANGE):
        fig.add_trace(go.Scatter(x=sx, y=sy, mode="lines", xaxis=xa, yaxis=ya,
                                 line=dict(color="#1f77b4", width=2.2, dash=dash, shape="spline"),
                                 showlegend=False, hoverinfo="skip"))
    fig.add_trace(go.Scatter(x=ow, y=of, mode="lines", xaxis=xa, yaxis=ya,
                             line=dict(color="#ff7f0e", width=2.8, shape="spline"),
                             showlegend=False, hoverinfo="skip"))
    fig.add_trace(go.Scatter(x=wl, y=fx, mode="lines", xaxis=xa, yaxis=ya,
                             line=dict(color="rgba(62,62,62,0.82)", width=1.6 if big else 1.8, shape="hvh"),
                             showlegend=False, hoverinfo="skip"))

    tx, ty = p.get("tpos", (0.966, 0.04))
    annotations.append(dict(text=p["text"], xref=xa + " domain", yref=ydom, x=tx, y=ty,
                            xanchor="right", yanchor="bottom", align="left", showarrow=False,
                            bgcolor="rgba(255,255,255,0.8)", bordercolor="#cccccc", borderwidth=1.2,
                            borderpad=5, font=dict(family=FONT, size=16, color="black")))

    if p.get("ylab"):
        annotations.append(dict(text="<i>F</i><sub><i>ν</i></sub> (a.u.)", xref="paper", yref="paper",
                                x=23 / FIG_W, y=1 - (y0 + y1) / 2 / FIG_H, textangle=-90,
                                xanchor="center", yanchor="middle", showarrow=False,
                                font=dict(family=FONT, size=26, color="black")))

# ---- top-panel decorations ----
for xv, lab, fs in [(BA_LIMIT, "Ba-∞", 27), (PA_LIMIT, "Pa-∞", 27), (PA_LINES[0], "Pa<sub>10→3</sub>", 20)]:
    annotations.append(dict(text=lab, xref="x", yref="y domain", x=xv + 0.003, y=0.843,
                            xanchor="right", yanchor="bottom", textangle=-90, showarrow=False,
                            borderpad=0, font=dict(family=FONT, size=fs, color="#808080")))
for xv in [BA_LIMIT, PA_LIMIT] + PA_LINES:
    shapes.append(dict(type="line", xref="x", yref="y domain", x0=xv, x1=xv, y0=0.843, y1=0.99,
                       line=dict(color="#808080", width=2.2, dash="6px,4px"), layer="above"))

annotations.append(dict(text="Paschen continuum", xref="x", yref="y domain", x=0.617, y=0.055,
                        xanchor="center", yanchor="middle", showarrow=False,
                        font=dict(family=FONT, size=24, color="#1f77b4")))
annotations.append(dict(text="Brackett continuum", xref="x", yref="y domain", x=1.170, y=0.055,
                        xanchor="center", yanchor="middle", showarrow=False,
                        font=dict(family=FONT, size=24, color="#ff7f0e")))

# gradient bars under the continuum labels
n_seg = 60
edges = np.linspace(0.3646, 0.8204, n_seg + 1)
for a, b in zip(edges[:-1], edges[1:]):
    m = 0.5 * (a + b)
    al = 0.04 + 0.85 * max(0.0, 1 - abs(m - 0.59) / 0.235) ** 1.3
    shapes.append(dict(type="rect", xref="x", yref="y domain", x0=a, x1=b + 0.001, y0=0.011, y1=0.025,
                       fillcolor=f"rgba(31,119,180,{al:.3f})", line=dict(width=0), layer="below"))
edges = np.linspace(0.8204, 1.451, n_seg + 1)
for a, b in zip(edges[:-1], edges[1:]):
    m = 0.5 * (a + b)
    al = 0.06 + 0.8 * ((m - 0.8204) / (1.451 - 0.8204)) ** 1.6
    shapes.append(dict(type="rect", xref="x", yref="y domain", x0=a, x1=b + 0.001, y0=0.011, y1=0.025,
                       fillcolor=f"rgba(255,127,14,{al:.3f})", line=dict(width=0), layer="below"))

annotations.append(dict(text="Reddened Blackbodies", xref="x", yref="y domain", x=0.776, y=0.331,
                        textangle=-37.5, showarrow=False, xanchor="center", yanchor="middle",
                        font=dict(family=FONT, size=15, color="rgba(222,60,60,0.9)")))
annotations.append(dict(text="Reddened Blackbodies", xref="x14", yref="y14 domain", x=0.789, y=0.114,
                        textangle=-29, showarrow=False, xanchor="center", yanchor="middle",
                        font=dict(family=FONT, size=15, color="rgba(222,60,60,0.9)")))

# x-axis titles
for cx in [192, 824.5]:
    annotations.append(dict(text="Wavelength (µm)", xref="paper", yref="paper",
                            x=cx / FIG_W, y=1 - 1626 / FIG_H, xanchor="center", yanchor="middle",
                            showarrow=False, font=dict(family=FONT, size=26, color="black")))

fig.update_layout(
    width=FIG_W, height=FIG_H, margin=dict(l=0, r=0, t=0, b=0),
    paper_bgcolor="white", plot_bgcolor="white",
    shapes=shapes, annotations=annotations, showlegend=False,
    **layout,
)

fig.write_html("out.html")
